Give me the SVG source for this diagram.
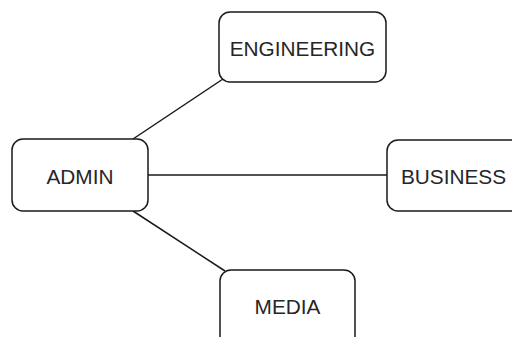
<svg xmlns="http://www.w3.org/2000/svg" width="512" height="337" viewBox="0 0 512 337">
<style>
.box{fill:#fff;stroke:#1a1a1a;stroke-width:1.5}
.lbl{font-family:"Liberation Sans",Arial,sans-serif;font-size:20.8px;fill:#262626;text-anchor:middle}
.edge{stroke:#1a1a1a;stroke-width:1.5;fill:none}
</style>
<rect width="512" height="337" fill="#fff"/>
<g id="connectors">
<line class="edge" x1="133" y1="139" x2="223" y2="79"/>
<line class="edge" x1="148" y1="175" x2="387" y2="175"/>
<line class="edge" x1="133" y1="211" x2="225" y2="271"/>
</g>
<g id="admin">
<rect class="box" x="12" y="139" width="136" height="72" rx="11"/>
<text class="lbl" x="80" y="183.5">ADMIN</text>
</g>
<g id="engineering">
<rect class="box" x="219" y="12" width="167" height="70" rx="11"/>
<text class="lbl" x="302.5" y="55.5">ENGINEERING</text>
</g>
<g id="business">
<rect class="box" x="387" y="140" width="140" height="71" rx="11"/>
<text class="lbl" x="453.5" y="183.5">BUSINESS</text>
</g>
<g id="media">
<rect class="box" x="220" y="270" width="135" height="80" rx="11"/>
<text class="lbl" x="287.5" y="313.5">MEDIA</text>
</g>
</svg>
